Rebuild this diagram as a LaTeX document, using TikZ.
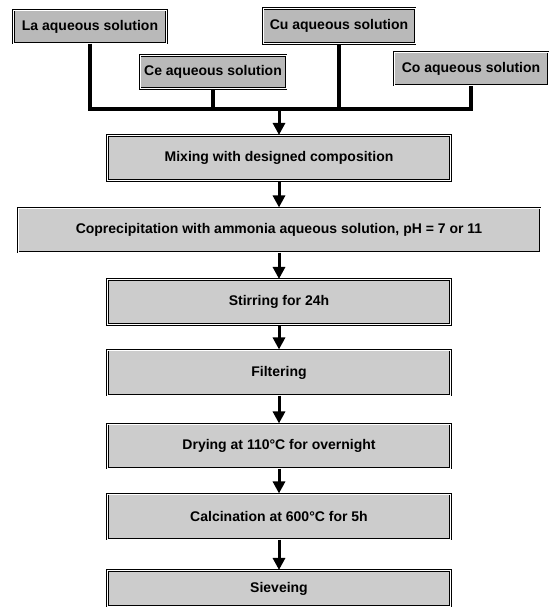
\documentclass[tikz,border=0pt]{standalone}
\usepackage{fontspec}
\setmainfont{Liberation Sans}
\usetikzlibrary{arrows.meta}
\tikzset{
  box style/.style={
    draw=black, line width=1.1pt,    % outer frame
    double=white, double distance=0.7pt,
    fill=gray!40, inner sep=0pt,
    font=\bfseries\fontsize{14}{16}\selectfont
  },
  source box/.style={box style, fill=gray!55},
  step box/.style={box style, minimum width=343pt, minimum height=45pt},
  bus line/.style={line width=3.5pt},
  flow arrow/.style={line width=3pt, -{Triangle[width=12pt,length=12pt]}}
}

\begin{document}
\begin{tikzpicture}[x=1pt, y=-1pt]
    % Fix the page to the size of the figure
    \useasboundingbox (0,0) rectangle (552,607);

    % The four aqueous solutions
    \node[source box, minimum width=153pt, minimum height=33pt] (la) at (90,26.5) {La aqueous solution};
    \node[source box, minimum width=152pt, minimum height=35pt] (cu) at (339,26) {Cu aqueous solution};
    \node[source box, minimum width=146pt, minimum height=33pt] (ce) at (213,72) {Ce aqueous solution};
    \node[source box, minimum width=154pt, minimum height=33pt] (co) at (471,68.5) {Co aqueous solution};

    % Line collecting the solutions
    \coordinate (bus) at (279,109);
    \draw[bus line] (la.south) -- (la.south |- bus) -- (co.south |- bus) -- (co.south);
    \draw[bus line] (ce.south) -- (ce.south |- bus);
    \draw[bus line] (cu.south) -- (cu.south |- bus);

    % Process steps
    \node[step box] (mix) at (279,158) {Mixing with designed composition};
    \node[step box, minimum width=522pt, minimum height=44pt] (coprec) at (279,230) {Coprecipitation with ammonia aqueous solution, pH = 7 or 11};
    \node[step box] (stir) at (279,302) {Stirring for 24h};
    \node[step box] (filt) at (279,372.5) {Filtering};
    \node[step box, minimum height=44pt] (dry) at (279,446) {Drying at 110°C for overnight};
    \node[step box] (calc) at (279,516.5) {Calcination at 600°C for 5h};
    \node[step box, minimum height=36pt] (sieve) at (279,588.5) {Sieveing};

    % Arrows from step to step
    \draw[flow arrow] (bus) -- (mix);
    \foreach \a/\b in {mix/coprec, coprec/stir, stir/filt, filt/dry, dry/calc, calc/sieve}
        \draw[flow arrow] (\a) -- (\b);
\end{tikzpicture}
\end{document}
